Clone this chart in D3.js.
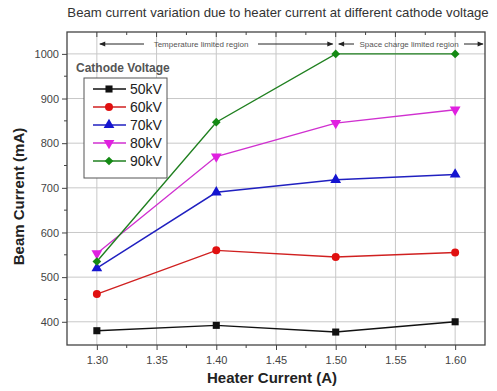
<!DOCTYPE html>
<html>
<head>
<meta charset="utf-8">
<script src="https://cdn.jsdelivr.net/npm/d3@7"></script>
<style>
  body { margin: 0; background: #fff; }
  text { font-family: Arial, "Liberation Sans", sans-serif; }
</style>
</head>
<body>
<svg id="chart" width="497" height="391"></svg>
<script>
const heaterCurrent = [1.30, 1.40, 1.50, 1.60];
const voltages = ["50kV", "60kV", "70kV", "80kV", "90kV"];
const beam50 = [380, 392, 377, 400];
const beam60 = [462, 560, 545, 555];
const beam70 = [520, 690, 718, 730];
const beam80 = [553, 770, 845, 875];
const beam90 = [535, 847, 1000, 1000];
const xTicks = [1.30, 1.35, 1.40, 1.45, 1.50, 1.55, 1.60];
const yTicks = [400, 500, 600, 700, 800, 900, 1000];

const seriesColors = ["#111", "#e01010", "#1515d0", "#e020e0", "#148a14"];
const lineColors = ["#111", "#d02020", "#2020c0", "#d030d0", "#208020"];
// square, circle, up triangle, down triangle, diamond (rotated square)
const symbols = [d3.symbolSquare, d3.symbolCircle, d3.symbolTriangle, d3.symbolTriangle, d3.symbolSquare];
const rotations = [0, 0, 0, 180, 45];

const series = [beam50, beam60, beam70, beam80, beam90].map((vals, i) => ({
  name: voltages[i],
  values: vals.map((v, j) => ({ x: heaterCurrent[j], y: v })),
}));

const svg = d3.select("#chart");
const pLeft = 67, pRight = 485, pTop = 32, pBottom = 345;

const x = d3.scaleLinear().domain([1.275, 1.625]).range([pLeft, pRight]);
const y = d3.scaleLinear().domain([348, 1049]).range([pBottom, pTop]);

// grid
svg.append("g").selectAll("line").data(xTicks).join("line")
  .attr("x1", d => x(d)).attr("x2", d => x(d))
  .attr("y1", pTop).attr("y2", pBottom)
  .attr("stroke", "#c8c8c8").attr("stroke-width", 1);
svg.append("g").selectAll("line").data(yTicks).join("line")
  .attr("x1", pLeft).attr("x2", pRight)
  .attr("y1", d => y(d)).attr("y2", d => y(d))
  .attr("stroke", "#c8c8c8").attr("stroke-width", 1);

// frame
svg.append("rect")
  .attr("x", pLeft).attr("y", pTop)
  .attr("width", pRight - pLeft).attr("height", pBottom - pTop)
  .attr("fill", "none").attr("stroke", "#444").attr("stroke-width", 1.3);

// axes
const xAxis = svg.append("g").attr("transform", `translate(0,${pBottom})`)
  .call(d3.axisBottom(x).tickValues(xTicks).tickFormat(d3.format(".2f")).tickSize(5).tickPadding(6));
const yAxis = svg.append("g").attr("transform", `translate(${pLeft},0)`)
  .call(d3.axisLeft(y).tickValues(yTicks).tickFormat(d3.format("d")).tickSize(5).tickPadding(3));
[xAxis, yAxis].forEach(a => {
  a.select(".domain").remove();
  a.selectAll("line").attr("stroke", "#444");
  a.selectAll("text").attr("fill", "#444").style("font-size", "11px");
});

// minor ticks
const xMinor = [1.325, 1.375, 1.425, 1.475, 1.525, 1.575];
svg.append("g").selectAll("line").data(xMinor).join("line")
  .attr("x1", d => x(d)).attr("x2", d => x(d))
  .attr("y1", pBottom).attr("y2", pBottom + 3).attr("stroke", "#444");
svg.append("g").selectAll("line").data(xTicks.concat(xMinor)).join("line")
  .attr("x1", d => x(d)).attr("x2", d => x(d))
  .attr("y1", pTop).attr("y2", d => pTop + (xTicks.includes(d) ? 5 : 3)).attr("stroke", "#444");
const yMinor = [450, 550, 650, 750, 850, 950];
svg.append("g").selectAll("line").data(yMinor).join("line")
  .attr("x1", pLeft - 3).attr("x2", pLeft)
  .attr("y1", d => y(d)).attr("y2", d => y(d)).attr("stroke", "#444");

// axis titles
svg.append("text")
  .attr("x", 272).attr("y", 383)
  .attr("text-anchor", "middle")
  .style("font-size", "15px").style("font-weight", "bold").attr("fill", "#222")
  .text("Heater Current (A)");
svg.append("text")
  .attr("transform", `translate(24,${(pTop + pBottom) / 2 + 8}) rotate(-90)`)
  .attr("text-anchor", "middle")
  .style("font-size", "15px").style("font-weight", "bold").attr("fill", "#222")
  .text("Beam Current (mA)");

// chart title
svg.append("text")
  .attr("x", 278).attr("y", 17)
  .attr("text-anchor", "middle")
  .style("font-size", "13.2px").attr("fill", "#333")
  .text("Beam current variation due to heater current at different cathode voltage");

// region annotations
const regionY = 44;
const defs = svg.append("defs");
defs.append("marker").attr("id", "arr")
  .attr("viewBox", "0 0 10 10").attr("refX", 9).attr("refY", 5)
  .attr("markerWidth", 7).attr("markerHeight", 6).attr("orient", "auto-start-reverse")
  .append("path").attr("d", "M0,1L10,5L0,9Z").attr("fill", "#222");

function region(x1, x2, label, tx1, tx2) {
  svg.append("line").attr("x1", tx1).attr("x2", x1).attr("y1", regionY).attr("y2", regionY)
    .attr("stroke", "#222").attr("marker-end", "url(#arr)");
  svg.append("line").attr("x1", tx2).attr("x2", x2).attr("y1", regionY).attr("y2", regionY)
    .attr("stroke", "#222").attr("marker-end", "url(#arr)");
  svg.append("text").attr("x", (tx1 + tx2) / 2).attr("y", regionY + 3)
    .attr("text-anchor", "middle").style("font-size", "8px").attr("fill", "#555")
    .text(label);
}
region(x(1.30) + 3, x(1.50) - 3, "Temperature limited region", 144, 258);
region(x(1.50) + 3, pRight - 2, "Space charge limited region", 354, 464);

// lines
const line = d3.line().x(d => x(d.x)).y(d => y(d.y));
svg.append("g").attr("fill", "none")
  .selectAll("path").data(series).join("path")
  .attr("d", d => line(d.values))
  .attr("stroke", (d, i) => lineColors[i]).attr("stroke-width", 1.4);

// markers
function symbolPath(i) {
  return d3.symbol().type(symbols[i]).size(i === 4 ? 38 : 50)();
}
series.forEach((s, i) => {
  svg.append("g").selectAll("path").data(s.values).join("path")
    .attr("transform", d => `translate(${x(d.x)},${y(d.y)}) rotate(${rotations[i]})`)
    .attr("d", symbolPath(i))
    .attr("fill", seriesColors[i]);
});

// legend
svg.append("text").attr("x", 76).attr("y", 72)
  .style("font-size", "12px").style("font-weight", "bold").attr("fill", "#555")
  .text("Cathode Voltage");
svg.append("rect").attr("x", 84).attr("y", 78).attr("width", 83).attr("height", 100)
  .attr("fill", "#fff").attr("stroke", "#555").attr("stroke-width", 1);
const leg = svg.append("g").selectAll("g").data(series).join("g")
  .attr("transform", (d, i) => `translate(0,${89 + i * 18})`);
leg.append("line").attr("x1", 93).attr("x2", 126).attr("y1", 0).attr("y2", 0)
  .attr("stroke", (d, i) => lineColors[i]).attr("stroke-width", 1.4);
leg.append("path")
  .attr("transform", (d, i) => `translate(109,0) rotate(${rotations[i]})`)
  .attr("d", (d, i) => symbolPath(i))
  .attr("fill", (d, i) => seriesColors[i]);
leg.append("text").attr("x", 130).attr("y", 5)
  .style("font-size", "14px").attr("fill", "#222")
  .text(d => d.name);
</script>
</body>
</html>
